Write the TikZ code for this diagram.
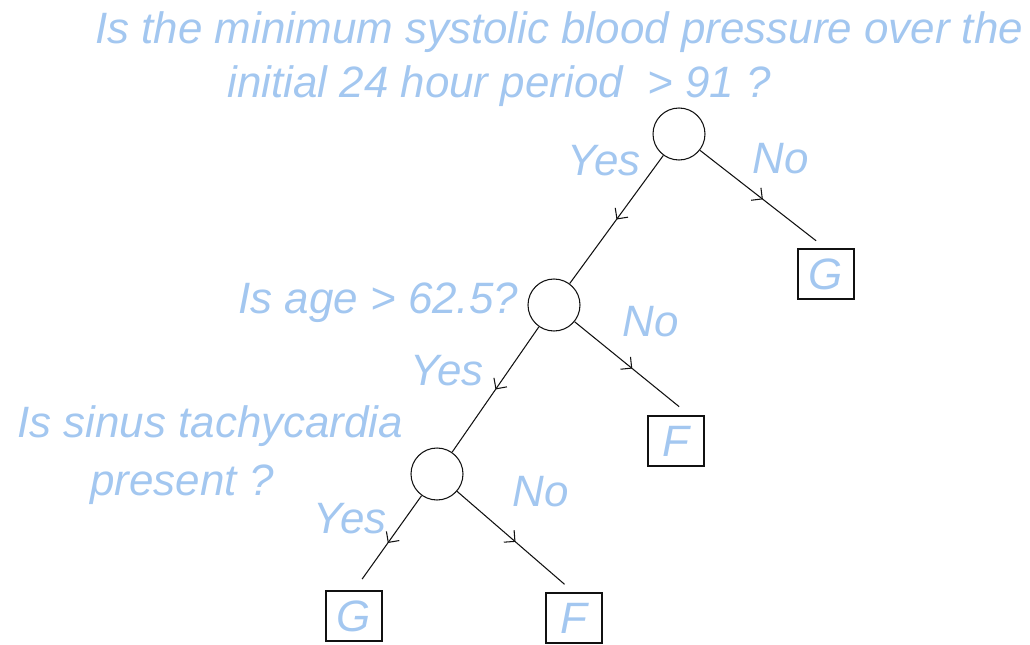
\documentclass[tikz,border=0pt]{standalone}
\usepackage{fontspec}
\setmainfont{Liberation Sans}
\usepackage{tikz}
\usetikzlibrary{positioning,arrows.meta,decorations.markings}
\definecolor{ink} {HTML}{111111}
\definecolor{sky} {HTML}{A3C7F0}
\tikzset{
  >=stealth,
  every node/.style={font=\fontsize{25}{30}\selectfont\itshape},
  % --- nodes
  test/.style  = {circle, draw=ink, line width=0.6pt, minimum size=10.4mm, inner sep=0pt},
  leaf/.style  = {rectangle, draw=ink, line width=0.6pt, minimum width=11.2mm,
                  minimum height=10mm, inner sep=0pt, text=sky},
  q/.style     = {text=sky, inner sep=0pt, anchor=base west},
  % --- edges
  e/.style     = {draw=ink, line width=0.6pt, postaction={decorate},
                  decoration={markings,
                    mark=at position 0.5 with {\arrow{Straight Barb[length=4.5pt,width=9pt]}}}},
  eleaf/.style = {e, shorten >=2.5mm},
}
\begin{document}
\begin{tikzpicture}
  \useasboundingbox (0,0) rectangle (20.6,-12.9);
  % questions
  \node[q] (q1a) at (1.9,-0.86) {Is the minimum systolic blood pressure over the};
  \node[q] (q1b) at (4.54,-1.94) {initial 24 hour period\ \ > 91 ?};
  \node[q] (q2) at (4.76,-6.26) {Is age > 62.5?};
  \node[q] (q3a) at (0.34,-8.74) {Is sinus tachycardia};
  \node[q] (q3b) at (1.8,-9.9) {present ?};
  % tests and leaves
  \node[test] (r) at (13.58,-2.68) {};
  \node[test] (c2) at (11.08,-6.1) {};
  \node[test] (c3) at (8.74,-9.48) {};
  \node[leaf] (g1) at (16.52,-5.48) {G};
  \node[leaf] (f1) at (13.52,-8.82) {F};
  \node[leaf] (g2) at (7.08,-12.32) {G};
  \node[leaf] (f2) at (11.48,-12.36) {F};
  % answers
  \node[q] (y1) at (11.34,-3.5) {Yes};
  \node[q] (n1) at (15.04,-3.46) {No};
  \node[q] (y2) at (8.2,-7.7) {Yes};
  \node[q] (n2) at (12.44,-6.72) {No};
  \node[q] (y3) at (6.26,-10.66) {Yes};
  \node[q] (n3) at (10.24,-10.12) {No};

  \draw[e] (r) -- (c2);
  \draw[eleaf] (r) -- (g1.north);
  \draw[e] (c2) -- (c3);
  \draw[eleaf, shorten >=2.8mm] (c2) -- ([xshift=2.8mm]f1.north);
  \draw[eleaf, shorten >=2.8mm] (c3) -- (g2.north);
  \draw[eleaf] (c3) -- (f2.north);
\end{tikzpicture}
\end{document}
